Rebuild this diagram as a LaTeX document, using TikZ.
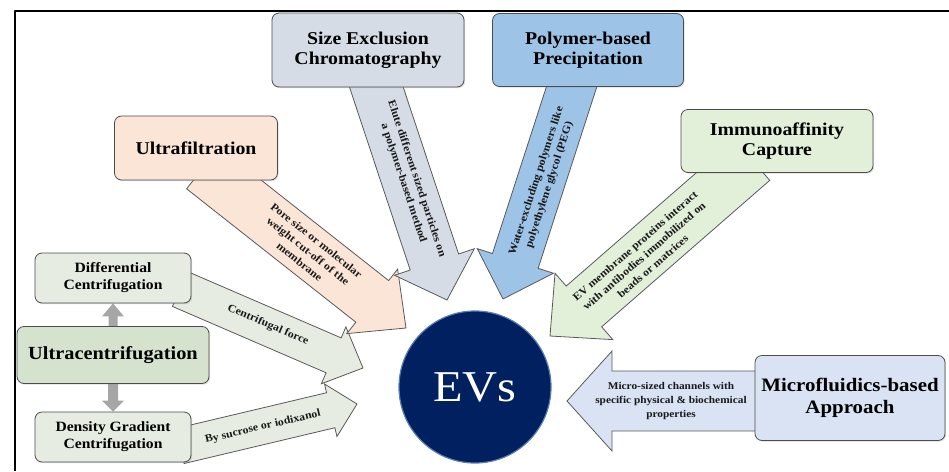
\documentclass[tikz,border=0pt]{standalone}
\usepackage{fontspec}
\setmainfont{Liberation Serif}[FakeStretch=1.1]
\usetikzlibrary{calc,backgrounds,shadows}
\definecolor{secgray}{HTML}{D6DCE5}
\definecolor{pbpblue}{HTML}{9DC3E6}
\definecolor{ufpeach}{HTML}{FBE5D6}
\definecolor{iacgreen}{HTML}{E2F0D9}
\definecolor{cfgreen}{HTML}{E6ECE2}
\definecolor{ucgreen}{HTML}{D5E3CE}
\definecolor{mbablue}{HTML}{DAE3F3}
\definecolor{evnavy}{HTML}{002060}
\definecolor{evedge}{HTML}{5A7CB4}
\definecolor{linkgray}{HTML}{A6A6A6}
% block arrow: start, tip, shaft half width, head half width, head length, style
\newcommand{\blockarrow}[6]{%
  \coordinate (ba-b) at ($(#2)!#5!(#1)$);
  \path[#6] ($(#1)!#3!90:(#2)$) -- ($(ba-b)!#3!90:(#2)$) -- ($(ba-b)!#4!90:(#2)$) -- (#2)
    -- ($(ba-b)!#4!-90:(#2)$) -- ($(ba-b)!#3!-90:(#2)$) -- ($(#1)!#3!-90:(#2)$) -- cycle;}
\begin{document}
\begin{tikzpicture}[x=1pt,y=-1pt, line join=round,
  box/.style={draw=black!70, line width=0.8pt, rounded corners=7pt, align=center, inner sep=0pt,
    drop shadow={opacity=0.25, shadow xshift=1.2pt, shadow yshift=-1.2pt}, font=\bfseries\fontsize{18}{20}\selectfont},
  subbox/.style={box, fill=cfgreen, minimum width=156pt, minimum height=50pt, font=\bfseries\fontsize{14.2}{17}\selectfont},
  arrowline/.style={draw=black!65, line width=0.8pt, line join=miter, fill=#1},
  note/.style={align=center, inner sep=0pt, text=black!90, font=\bfseries\fontsize{10.8}{13.6}\selectfont}]
\useasboundingbox (0,0) rectangle (949,471);
\draw[line width=2.5pt] (15,471) -- (15,11) -- (949,11);

\node[box, fill=secgray, minimum width=192pt, minimum height=74pt] (sec) at (368,50) {Size Exclusion\\Chromatography};
\node[box, fill=pbpblue, minimum width=191pt, minimum height=73pt] (pbp) at (588,50) {Polymer-based\\Precipitation};
\node[box, fill=ufpeach, minimum width=163pt, minimum height=64pt] (uf) at (196,148) {Ultrafiltration};
\node[box, fill=iacgreen, minimum width=192pt, minimum height=63pt] (iac) at (777,141) {Immunoaffinity\\Capture};
\node[subbox] (dc) at (113,278) {Differential\\Centrifugation};
\node[box, fill=ucgreen, minimum width=192pt, minimum height=57pt, font=\bfseries\fontsize{18.5}{20}\selectfont] (uc) at (113,355) {Ultracentrifugation};
\node[subbox] (dgc) at (113,437) {Density Gradient\\Centrifugation};
\node[box, fill=mbablue, minimum width=190pt, minimum height=85pt, font=\bfseries\fontsize{19}{22}\selectfont] (mba) at (850,398) {Microfluidics-based\\Approach};
\node[circle, fill=evnavy, draw=evedge, line width=1.2pt, minimum size=152pt, text=white, font=\fontsize{44}{44}\selectfont] (ev) at (475,387) {EVs};

\coordinate (cf-start) at (180,289);
\coordinate (cf-tip) at (363,368);
\coordinate (dg-start) at (180,446);
\coordinate (dg-tip) at (357,404);
\coordinate (uf-start) at (203,168);
\coordinate (uf-tip) at (406,328);
\coordinate (sec-start) at (370,68);
\coordinate (sec-tip) at (447,300);
\coordinate (pbp-start) at (578,67);
\coordinate (pbp-tip) at (503,299);
\coordinate (iac-start) at (752,160);
\coordinate (iac-tip) at (550,336);
\coordinate (mba-start) at (800,401);
\coordinate (mba-tip) at (567,401);

\begin{scope}[on background layer]
\blockarrow{cf-start}{cf-tip}{19pt}{31pt}{32pt}{arrowline=cfgreen}
\blockarrow{dg-start}{dg-tip}{18pt}{27pt}{27pt}{arrowline=cfgreen}
\blockarrow{uf-start}{uf-tip}{26.5pt}{41pt}{43pt}{arrowline=ufpeach}
\blockarrow{sec-start}{sec-tip}{25.5pt}{42pt}{40pt}{arrowline=secgray}
\blockarrow{pbp-start}{pbp-tip}{24pt}{40pt}{40pt}{arrowline=pbpblue}
\blockarrow{iac-start}{iac-tip}{27pt}{44pt}{45pt}{arrowline=iacgreen}
\blockarrow{mba-start}{mba-tip}{30pt}{50pt}{45pt}{arrowline=mbablue}
\blockarrow{uc.north}{dc.south}{4.5pt}{11pt}{13pt}{fill=linkgray}
\blockarrow{uc.south}{dgc.north}{5pt}{11pt}{11pt}{fill=linkgray}
\end{scope}

\node[note, rotate=-38.4] (uf-note) at (308,251) {Pore size or molecular\\weight cut-off of the\\membrane};
\node[note, rotate=-71.6] (sec-note) at (410,181) {Elute different sized particles on\\a polymer-based method};
\node[note, rotate=72] (pbp-note) at (543,183) {Water-excluding polymers like\\polyethylene glycol (PEG)};
\node[note, rotate=41] (iac-note) at (644,256) {EV membrane proteins interact\\with antibodies immobilized on\\beads or matrices};
\node[note, font=\bfseries\fontsize{10.3}{13.6}\selectfont] (mba-note) at (671,401) {Micro-sized channels with\\specific physical \& biochemical\\properties};
\node[note, rotate=-23.4] (cf-note) at (268,325) {Centrifugal force};
\node[note, rotate=13] (dg-note) at (263,427) {By sucrose or iodixanol};
\end{tikzpicture}
\end{document}
